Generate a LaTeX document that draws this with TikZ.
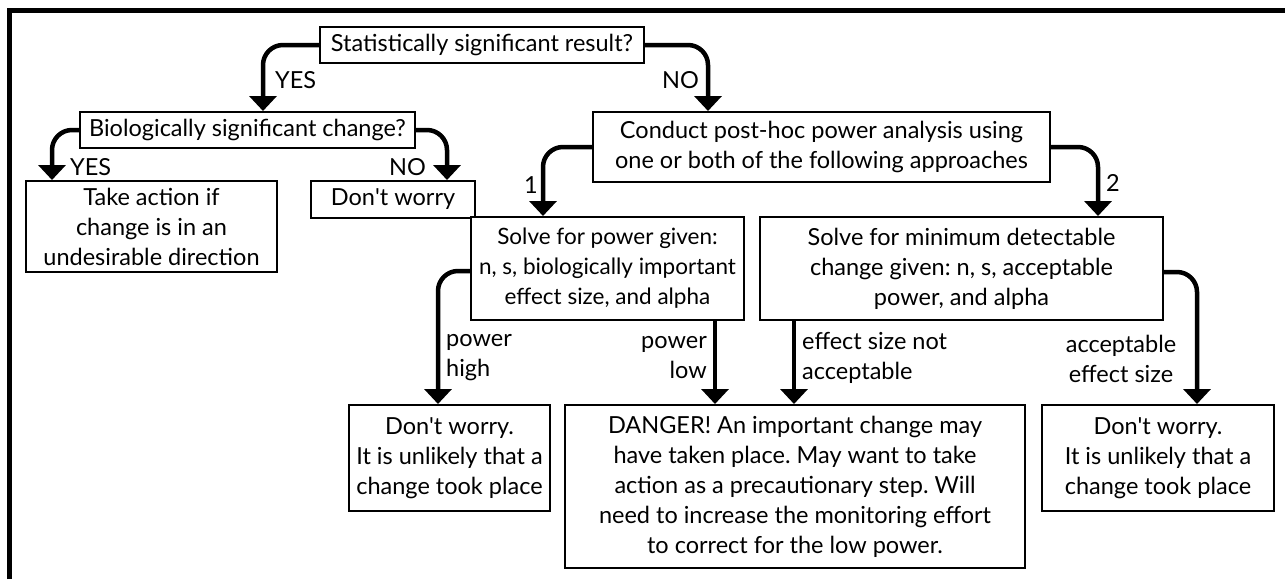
\documentclass[tikz,border=0pt]{standalone}
\usepackage{fontspec}
\setmainfont{Lato}
\usetikzlibrary{arrows.meta}
\newcommand{\fsz}{\frenchspacing\fontsize{23.5}{30}\selectfont}
\newcommand{\ap}{\textquotesingle}
\tikzset{
  box/.style={draw=black, line width=2pt, fill=white, align=center, inner sep=0pt, font=\fsz},
  conn/.style={line width=4.5pt, rounded corners=20pt, -{Triangle[width=27pt,length=15pt]}},
  lbl/.style={inner sep=0pt, font=\fsz}
}
\begin{document}
\begin{tikzpicture}[x=1pt,y=1pt]
\useasboundingbox (0,0) rectangle (1285,-579);
\draw[line width=5pt] (9.5,-579) -- (9.5,-10.5) -- (1285,-10.5);

\node[box, minimum width=324pt, minimum height=36pt] (top) at (482,-45) {Statistically significant result?};
\node[box, minimum width=335pt, minimum height=36pt] (bio) at (247.5,-130) {Biologically significant change?};
\node[box, minimum width=251pt, minimum height=91pt] (take) at (151.5,-226.5) {Take action if\\change is in an\\undesirable direction};
\node[box, minimum width=164pt, minimum height=37pt] (dw0) at (393,-199.5) {Don\ap t worry};
\node[box, minimum width=457pt, minimum height=70pt] (conduct) at (821.5,-147) {Conduct post-hoc power analysis using\\one or both of the following approaches};
\node[box, minimum width=273pt, minimum height=103pt, font=\frenchspacing\fontsize{22.5}{30}\selectfont] (solve1) at (607.5,-268.5) {Solve for power given:\\n, s, biologically important\\effect size, and alpha};
\node[box, minimum width=403pt, minimum height=103pt] (solve2) at (961.5,-268.5) {Solve for minimum detectable\\change given: n, s, acceptable\\power, and alpha};
\node[box, minimum width=201pt, minimum height=106pt] (dw1) at (449.5,-458) {Don\ap t worry.\\It is unlikely that a\\change took place};
\node[box, minimum width=460pt, minimum height=163pt] (danger) at (795,-486.5) {DANGER! An important change may\\have taken place. May want to take\\action as a precautionary step. Will\\need to increase the monitoring effort\\to correct for the low power.};
\node[box, minimum width=232pt, minimum height=106pt] (dw2) at (1158,-458) {Don\ap t worry.\\It is unlikely that a\\change took place};

\draw[conn] (top.west) -| ([xshift=15.5pt]bio.north);
\node[lbl, anchor=west] (lyes1) at (275,-80) {YES};
\draw[conn] (top.east) -| ([xshift=-113.5pt]conduct.north);
\node[lbl, anchor=east] (lno1) at (699,-80) {NO};
\draw[conn] (bio.west) -| ([xshift=-99.5pt]take.north);
\node[lbl, anchor=west] (lyes2) at (70,-167) {YES};
\draw[conn] (bio.east) -| ([xshift=54pt]dw0.north);
\node[lbl, anchor=east] (lno2) at (426,-167) {NO};
\draw[conn] (conduct.west) -| ([xshift=-64.5pt]solve1.north);
\node[lbl] (l1) at (531,-185) {1};
\draw[conn] (conduct.east) -| ([xshift=136.5pt]solve2.north);
\node[lbl] (l2) at (1113,-183) {2};
\draw[conn] ([yshift=-2.5pt]solve1.west) -| ([xshift=-11.5pt]dw1.north);
\node[lbl, anchor=west, align=left] (lph) at (446,-358) {power\\high};
\draw[conn] (solve1.south -| 715,0) -- (danger.north -| 715,0);
\node[lbl, anchor=east, align=right] (lpl) at (707,-358) {power\\low};
\draw[conn] (solve2.south -| 794,0) -- (danger.north -| 794,0);
\node[lbl, anchor=west, align=left] (lna) at (802,-358) {effect size not\\acceptable};
\draw[conn] ([yshift=-3.5pt]solve2.east) -| ([xshift=39pt]dw2.north);
\node[lbl, align=center] (lae) at (1121,-359) {acceptable\\effect size};
\end{tikzpicture}
\end{document}
